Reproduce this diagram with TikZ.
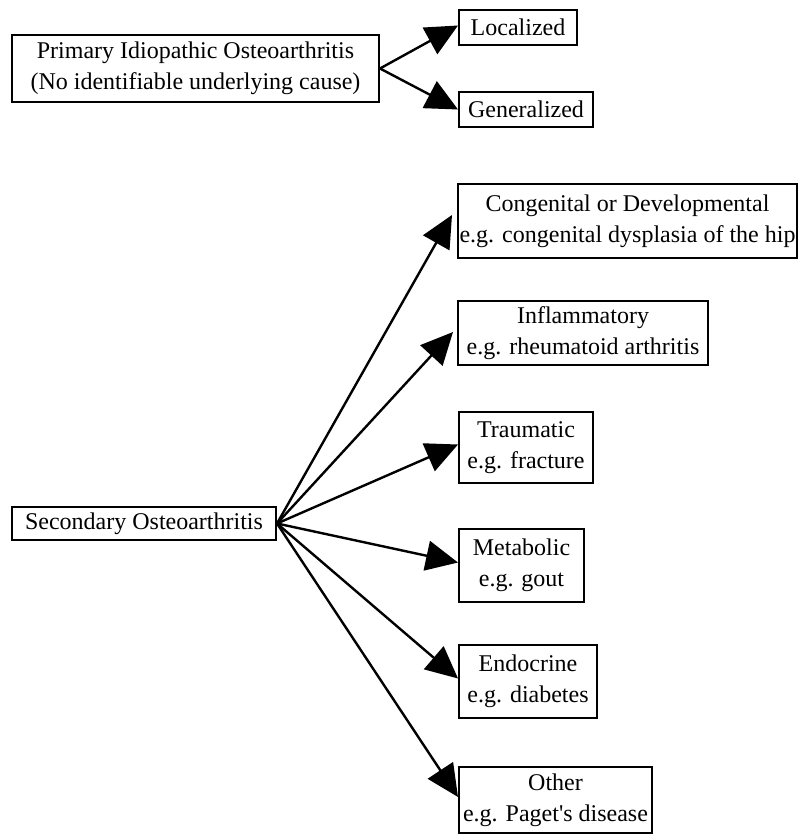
\documentclass[tikz,border=0pt]{standalone}
\usepackage{fontspec}
\setmainfont{Liberation Serif}[Ligatures=TeXOff]
\usetikzlibrary{arrows.meta}
\tikzset{
  boxnode/.style={draw=black, line width=2pt, fill=white, align=center, inner sep=0pt,
    font=\fontsize{24}{31}\selectfont},
  conn/.style={line width=2.4pt, -{Triangle[length=32pt,width=30pt]}}
}
\begin{document}
\begin{tikzpicture}[x=1pt,y=-1pt]
\useasboundingbox (0,0) rectangle (798,834);
\fill[white] (0,0) rectangle (798,834);
\node[boxnode, minimum width=367pt, minimum height=67pt] (prim) at (195.5,68.5) {Primary Idiopathic Osteoarthritis\\(No identifiable underlying cause)};
\node[boxnode, minimum width=118pt, minimum height=35pt] (loc) at (518,27.5) {Localized};
\node[boxnode, minimum width=134pt, minimum height=35pt] (gen) at (526,109.5) {Generalized};
\node[boxnode, minimum width=264pt, minimum height=33pt] (sec) at (144,523.5) {Secondary Osteoarthritis};
\node[boxnode, minimum width=339pt, minimum height=74pt] (cong) at (627.5,221) {Congenital or Developmental\\e.g. congenital dysplasia of the hip};
\node[boxnode, minimum width=250pt, minimum height=64pt] (infl) at (583,333) {Inflammatory\\e.g. rheumatoid arthritis};
\node[boxnode, minimum width=134pt, minimum height=71pt] (trau) at (526,447.5) {Traumatic\\e.g. fracture};
\node[boxnode, minimum width=125pt, minimum height=73pt] (meta) at (521.5,565.5) {Metabolic\\e.g. gout};
\node[boxnode, minimum width=138pt, minimum height=73pt] (endo) at (528,681.5) {Endocrine\\e.g. diabetes};
\node[boxnode, minimum width=193pt, minimum height=66pt] (oth) at (555.5,800) {Other\\e.g. Paget's disease};
\draw[conn] (prim.east) -- ([yshift=2pt]loc.west);
\draw[conn] (prim.east) -- (gen.west);
\draw[conn] (sec.east) -- ([xshift=-5pt,yshift=6pt]cong.west);
\draw[conn] (sec.east) -- ([xshift=-4pt,yshift=1pt]infl.west);
\draw[conn] (sec.east) -- ([yshift=3pt]trau.west);
\draw[conn] (sec.east) -- ([yshift=3pt]meta.west);
\draw[conn] (sec.east) -- ([yshift=3pt]endo.west);
\draw[conn] (sec.east) -- ([yshift=3pt]oth.west);
\end{tikzpicture}
\end{document}
